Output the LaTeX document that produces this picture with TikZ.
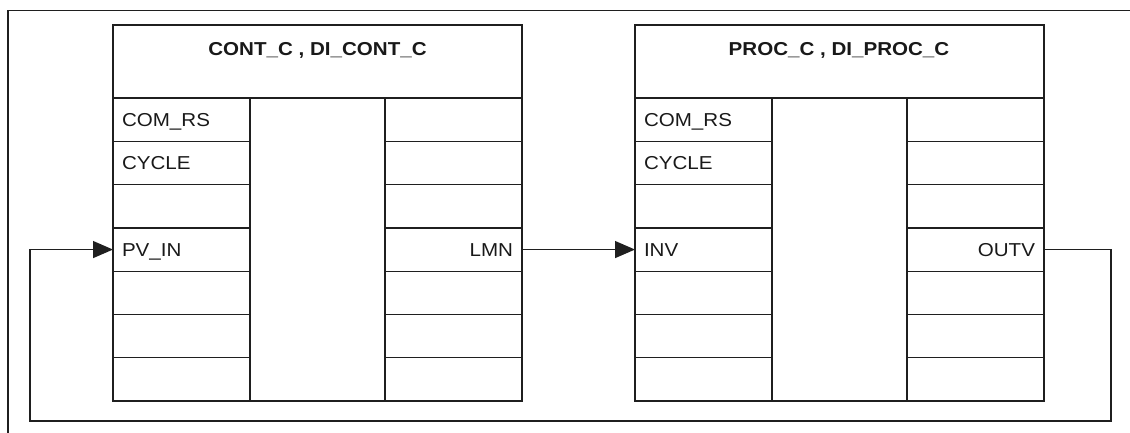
\documentclass[tikz,border=0pt]{standalone}
\usepackage{fontspec}
\setmainfont{Liberation Sans}[FakeStretch=1.1]
\usetikzlibrary{arrows.meta}
\begin{document}
\begin{tikzpicture}[x=1pt,y=-1pt,
  ln/.style={draw=black!88, line width=1.3pt},
  txt/.style={font=\fontsize{18.7}{22}\selectfont, text=black!90},
  cellL/.style={ln, txt, anchor=north west, minimum width=137pt, minimum height=43.3pt,
     inner xsep=9pt, inner ysep=0pt, text width=119pt, align=left, text height=13.4pt, text depth=0pt, outer sep=0pt},
  cellR/.style={cellL, align=right},
  hdr/.style={ln, anchor=north west, minimum width=409pt, minimum height=73pt, inner sep=0pt, outer sep=0pt},
  mid/.style={ln, anchor=north west, minimum width=135pt, minimum height=303pt, inner sep=0pt, outer sep=0pt},
  ttl/.style={txt, font=\fontsize{18.7}{22}\selectfont\bfseries, anchor=base, inner sep=0pt},
  conn/.style={draw=black!88, line width=1.3pt},
  arr/.style={conn, -{Triangle[length=20pt,width=17pt]}}
]
\useasboundingbox (0,0) rectangle (1130,433);
% frame
\coordinate (frTL) at (8,10.5);
\coordinate (frTR) at (1130,10.5);
\coordinate (frBL) at (8,433);
\draw[conn] (frBL) -- (frTL) -- (frTR);

% block 1
\node[hdr] (h1) at (113,25) {};
\node[ttl] (t1) at (317.5,55.7) {CONT\_C , DI\_CONT\_C};
\node[mid] (c1) at (250,98) {};
\foreach \i/\t in {0/COM\_RS,1/CYCLE,2/,3/PV\_IN,4/,5/,6/}
  \node[cellL] (l1-\i) at (113,{98+43.3*\i}) {\t};
\foreach \i/\t in {0/,1/,2/,3/LMN,4/,5/,6/}
  \node[cellR] (r1-\i) at (385,{98+43.3*\i}) {\t};

% block 2
\node[hdr] (h2) at (635,25) {};
\node[ttl] (t2) at (839,55.7) {PROC\_C , DI\_PROC\_C};
\node[mid] (c2) at (772,98) {};
\foreach \i/\t in {0/COM\_RS,1/CYCLE,2/,3/INV,4/,5/,6/}
  \node[cellL] (l2-\i) at (635,{98+43.3*\i}) {\t};
\foreach \i/\t in {0/,1/,2/,3/OUTV,4/,5/,6/}
  \node[cellR] (r2-\i) at (907,{98+43.3*\i}) {\t};

% connections
\draw[arr] (r1-3.east) -- (l2-3.west);
\coordinate (fbR) at (1111,421);
\coordinate (fbL) at (30,421);
\draw[arr] (r2-3.east) -| (fbR) -- (fbL) |- (l1-3.west);
\end{tikzpicture}
\end{document}
